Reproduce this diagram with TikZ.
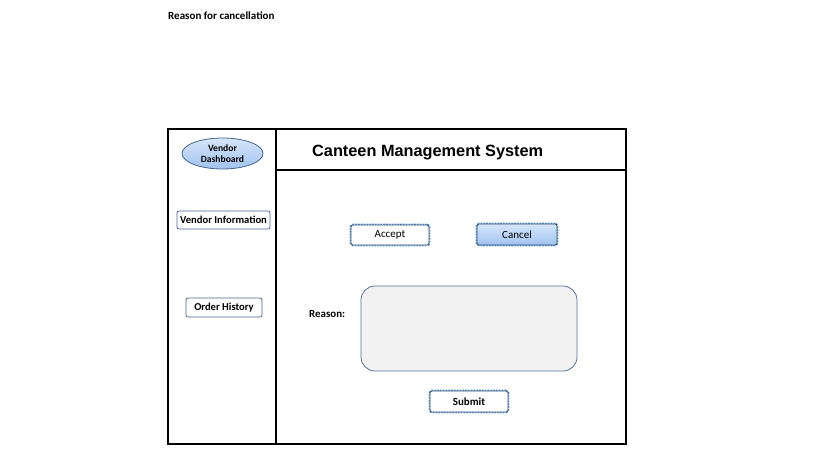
\documentclass[tikz,border=0pt]{standalone}
\usepackage{fontspec}
\setmainfont{Carlito}
\newfontfamily\titlefont{Liberation Sans}
\usetikzlibrary{shapes.geometric}
\definecolor{dotblue}{RGB}{80,150,215}
\definecolor{darkbord}{RGB}{40,70,110}
\definecolor{boxbord}{RGB}{70,100,145}
\definecolor{lightblue}{RGB}{215,230,250}
\definecolor{midblue}{RGB}{160,195,240}
\definecolor{areafill}{RGB}{242,242,242}
\definecolor{areabord}{RGB}{85,115,150}
\tikzset{
  frameline/.style={line width=2.6pt, black},
  navbox/.style={draw=boxbord, rounded corners=2pt, line width=0.8pt, fill=white, inner sep=0pt, font=\fontsize{10.6}{12}\selectfont\bfseries},
  btn/.style={rounded corners=2pt, inner sep=0pt, font=\fontsize{11}{12}\selectfont,
    preaction={draw=dotblue, line width=2.6pt, dash pattern=on 1.6pt off 1.2pt},
    draw=darkbord, line width=0.8pt},
  lbl/.style={inner sep=0pt, font=\fontsize{10.9}{12}\selectfont\bfseries},
}
\begin{document}
\begin{tikzpicture}[x=1pt,y=-1pt]
\useasboundingbox (0,0) rectangle (819,460);
\node[lbl, anchor=west, font=\fontsize{11}{12}\selectfont\bfseries] (caption) at (168,16) {Reason for cancellation};
% frame
\draw[frameline] (168,129) rectangle (626,444);
\coordinate (divtop) at (276,129);
\coordinate (divbot) at (276,444);
\coordinate (hl) at (276,170);
\coordinate (hr) at (626,170);
\draw[frameline] (divtop) -- (divbot);
\draw[frameline] (hl) -- (hr);
% title
\node[anchor=west, inner sep=0pt, font=\titlefont\fontsize{16.3}{18}\selectfont\bfseries] (title) at (312,153) {Canteen Management System};
% sidebar
\node[ellipse, draw=boxbord, line width=0.8pt, top color=lightblue, bottom color=midblue, minimum width=81pt, minimum height=31pt, inner sep=0pt, align=center, font=\fontsize{9.6}{11}\selectfont\bfseries] (dash) at (222.5,153.5) {Vendor\\Dashboard};
\node[navbox, minimum width=93pt, minimum height=18pt] (info) at (223.5,220) {Vendor Information};
\node[navbox, minimum width=76pt, minimum height=19pt] (hist) at (224,307.5) {Order History};
% buttons
\node[btn, fill=white, minimum width=78pt, minimum height=20pt] (accept) at (390,235) {Accept};
\node[btn, top color=lightblue, bottom color=midblue, minimum width=80pt, minimum height=21pt] (cancel) at (517,234.5) {Cancel};
% reason
\node[lbl, anchor=west] (reason) at (309,314) {Reason:};
\node[draw=areabord, fill=areafill, rounded corners=14pt, line width=0.8pt, minimum width=216pt, minimum height=85pt, inner sep=0pt] (area) at (469,328.5) {};
\node[btn, fill=white, minimum width=78pt, minimum height=21pt, font=\fontsize{10.9}{12}\selectfont\bfseries] (submit) at (469,401.5) {Submit};
\end{tikzpicture}
\end{document}
